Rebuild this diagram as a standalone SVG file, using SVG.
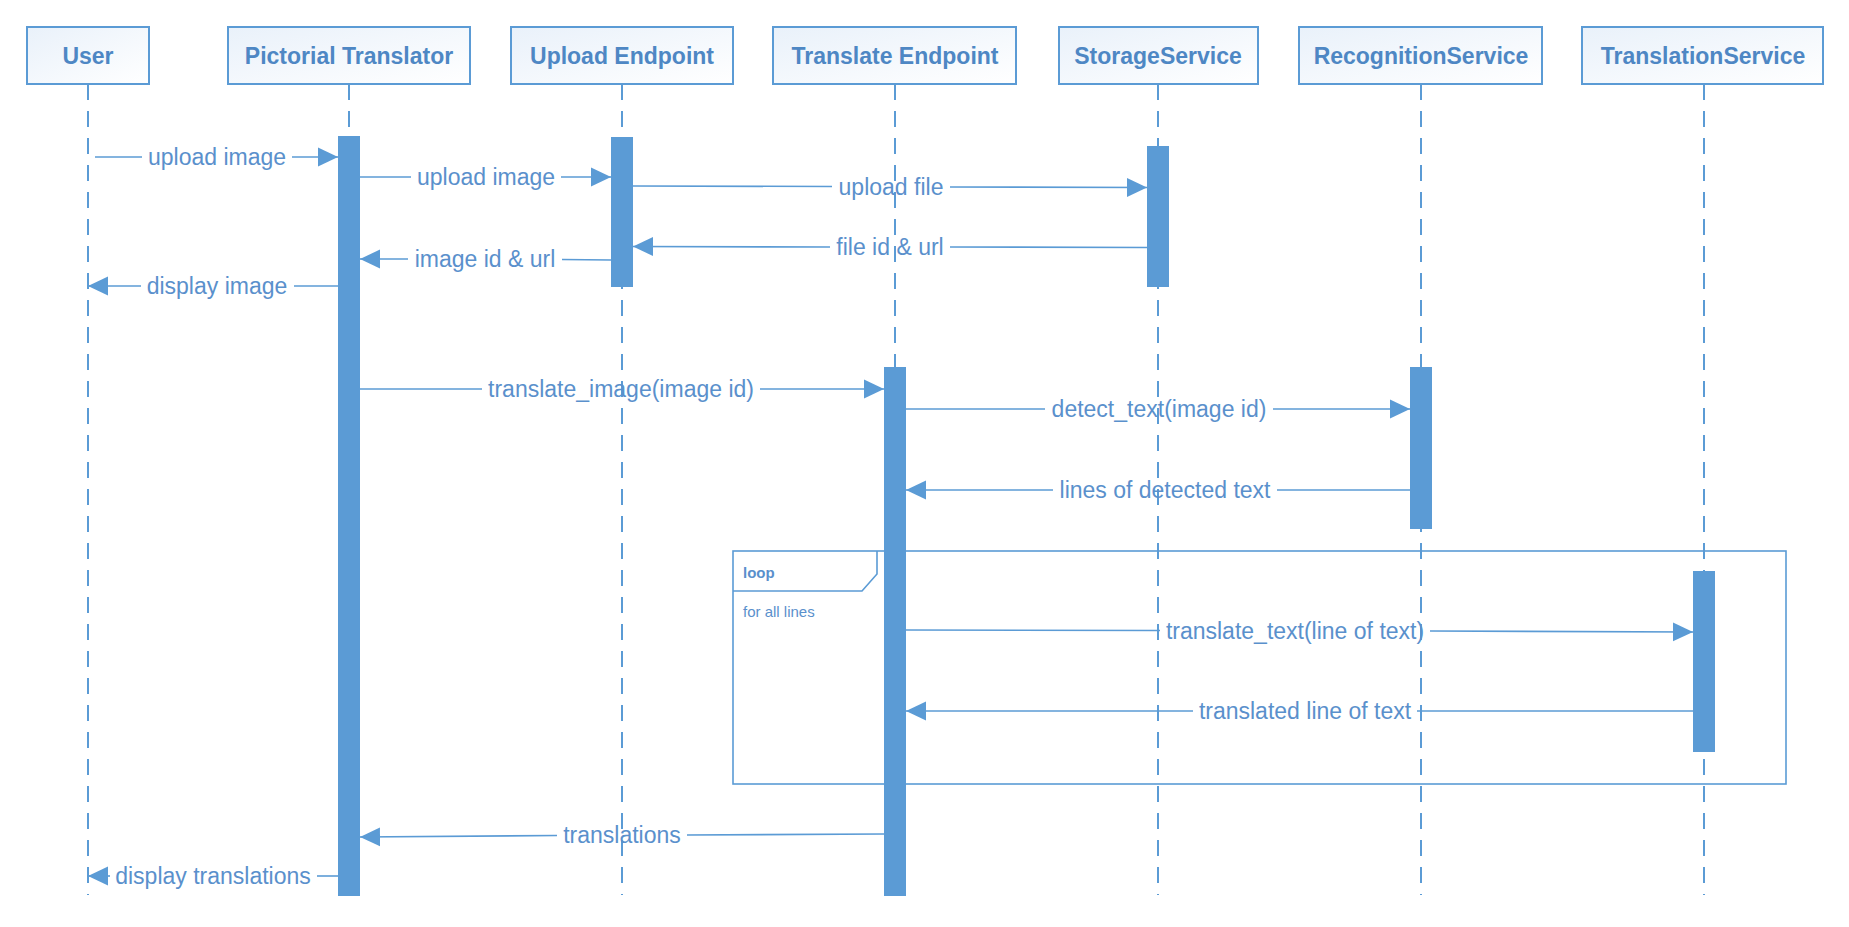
<svg xmlns="http://www.w3.org/2000/svg" width="1849" height="927" viewBox="0 0 1849 927">
<defs>
<linearGradient id="boxfill" x1="0" y1="0" x2="1" y2="1">
<stop offset="0" stop-color="#e9f1fa"/>
<stop offset="1" stop-color="#ffffff"/>
</linearGradient>
<marker id="arr" markerUnits="userSpaceOnUse" markerWidth="20" markerHeight="20" viewBox="0 0 18 18" refX="18" refY="9" orient="auto">
<path d="M0,0.5 L18,9 L0,17.5 Z" fill="#5b9bd5"/>
</marker>
<style>
.box{fill:url(#boxfill);stroke:#5b9bd5;stroke-width:2}
.title{font-family:"Liberation Sans",Arial,sans-serif;font-size:23px;font-weight:bold;fill:#4e87c4;text-anchor:middle}
.life{stroke:#5b9bd5;stroke-width:2;stroke-dasharray:16 11;fill:none}
.bar{fill:#5b9bd5}
.msg{stroke:#5b9bd5;stroke-width:1.6;fill:none}
.lbl{font-family:"Liberation Sans",Arial,sans-serif;font-size:23px;fill:#5a90cc;text-anchor:middle}
.frame{fill:none;stroke:#5b9bd5;stroke-width:1.6}
.ft{font-family:"Liberation Sans",Arial,sans-serif;font-size:15px;fill:#5a90cc}
</style>
</defs>
<rect width="1849" height="927" fill="#ffffff"/>

<g id="lifelines">
<line class="life" x1="88" y1="84" x2="88" y2="895"/>
<line class="life" x1="349" y1="84" x2="349" y2="895"/>
<line class="life" x1="622" y1="84" x2="622" y2="895"/>
<line class="life" x1="895" y1="84" x2="895" y2="895"/>
<line class="life" x1="1158" y1="84" x2="1158" y2="895"/>
<line class="life" x1="1421" y1="84" x2="1421" y2="895"/>
<line class="life" x1="1704" y1="84" x2="1704" y2="895"/>
</g>

<g id="loop">
<rect class="frame" x="733" y="551" width="1053" height="233"/>
<path class="frame" d="M733,591 H862 L877,574 V551"/>
<text class="ft" x="743" y="578" font-weight="bold">loop</text>
<text class="ft" x="743" y="617">for all lines</text>
</g>

<g id="user">
<rect class="box" x="27" y="27" width="122" height="57"/>
<text class="title" x="88" y="64">User</text>
</g>
<g id="pictorial-translator">
<rect class="box" x="228" y="27" width="242" height="57"/>
<text class="title" x="349" y="64">Pictorial Translator</text>
<rect class="bar" x="338" y="136" width="22" height="760"/>
</g>
<g id="upload-endpoint">
<rect class="box" x="511" y="27" width="222" height="57"/>
<text class="title" x="622" y="64">Upload Endpoint</text>
<rect class="bar" x="611" y="137" width="22" height="150"/>
</g>
<g id="translate-endpoint">
<rect class="box" x="773" y="27" width="243" height="57"/>
<text class="title" x="895" y="64">Translate Endpoint</text>
<rect class="bar" x="884" y="367" width="22" height="529"/>
</g>
<g id="storage-service">
<rect class="box" x="1059" y="27" width="199" height="57"/>
<text class="title" x="1158" y="64">StorageService</text>
<rect class="bar" x="1147" y="146" width="22" height="141"/>
</g>
<g id="recognition-service">
<rect class="box" x="1299" y="27" width="243" height="57"/>
<text class="title" x="1421" y="64">RecognitionService</text>
<rect class="bar" x="1410" y="367" width="22" height="162"/>
</g>
<g id="translation-service">
<rect class="box" x="1582" y="27" width="241" height="57"/>
<text class="title" x="1703" y="64">TranslationService</text>
<rect class="bar" x="1693" y="571" width="22" height="181"/>
</g>

<g id="connectors">
<line class="msg" x1="95" y1="157" x2="142" y2="157"/>
<line class="msg" x1="292" y1="157" x2="338" y2="157" marker-end="url(#arr)"/>
<line class="msg" x1="360" y1="177" x2="411" y2="177"/>
<line class="msg" x1="561" y1="177" x2="611" y2="177" marker-end="url(#arr)"/>
<line class="msg" x1="633" y1="186" x2="832" y2="186.5"/>
<line class="msg" x1="950" y1="187" x2="1147" y2="187.5" marker-end="url(#arr)"/>
<line class="msg" x1="1147" y1="247.5" x2="950" y2="247"/>
<line class="msg" x1="830" y1="247" x2="633" y2="246.5" marker-end="url(#arr)"/>
<line class="msg" x1="611" y1="260" x2="562" y2="259.5"/>
<line class="msg" x1="408" y1="259" x2="360" y2="259" marker-end="url(#arr)"/>
<line class="msg" x1="338" y1="286" x2="294" y2="286"/>
<line class="msg" x1="141" y1="286" x2="88" y2="286" marker-end="url(#arr)"/>
<line class="msg" x1="360" y1="389" x2="482" y2="389"/>
<line class="msg" x1="760" y1="389" x2="884" y2="389" marker-end="url(#arr)"/>
<line class="msg" x1="906" y1="409" x2="1045" y2="409"/>
<line class="msg" x1="1273" y1="409" x2="1410" y2="409" marker-end="url(#arr)"/>
<line class="msg" x1="1410" y1="490" x2="1277" y2="490"/>
<line class="msg" x1="1053" y1="490" x2="906" y2="490" marker-end="url(#arr)"/>
<line class="msg" x1="906" y1="630" x2="1160" y2="630.5"/>
<line class="msg" x1="1430" y1="631" x2="1693" y2="632" marker-end="url(#arr)"/>
<line class="msg" x1="1693" y1="711" x2="1417" y2="711"/>
<line class="msg" x1="1193" y1="711" x2="906" y2="711" marker-end="url(#arr)"/>
<line class="msg" x1="884" y1="834" x2="687" y2="835"/>
<line class="msg" x1="557" y1="835.5" x2="360" y2="837" marker-end="url(#arr)"/>
<line class="msg" x1="338" y1="876" x2="317" y2="876"/>
<line class="msg" x1="110" y1="876" x2="88" y2="876" marker-end="url(#arr)"/>
</g>

<g id="labels">
<text class="lbl" x="217" y="165">upload image</text>
<text class="lbl" x="486" y="185">upload image</text>
<text class="lbl" x="891" y="195">upload file</text>
<text class="lbl" x="890" y="255">file id &amp; url</text>
<text class="lbl" x="485" y="267">image id &amp; url</text>
<text class="lbl" x="217" y="294">display image</text>
<text class="lbl" x="621" y="397">translate_image(image id)</text>
<text class="lbl" x="1159" y="417">detect_text(image id)</text>
<text class="lbl" x="1165" y="498">lines of detected text</text>
<text class="lbl" x="1295" y="639">translate_text(line of text)</text>
<text class="lbl" x="1305" y="719">translated line of text</text>
<text class="lbl" x="622" y="843">translations</text>
<text class="lbl" x="213" y="884">display translations</text>
</g>
</svg>
